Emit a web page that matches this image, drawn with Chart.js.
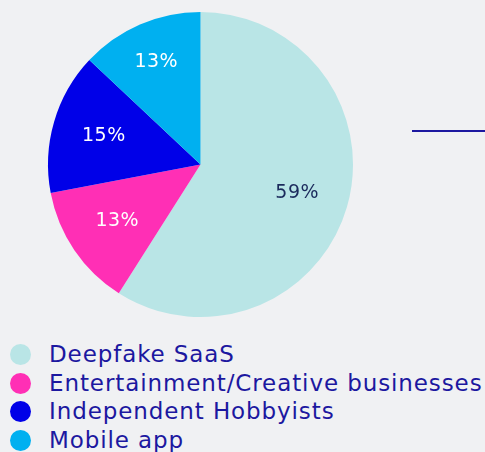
<!DOCTYPE html>
<html>
<head>
<meta charset="utf-8">
<script src="https://cdn.jsdelivr.net/npm/chart.js@4/dist/chart.umd.min.js"></script>
<style>
  html, body { margin: 0; padding: 0; background: #f0f1f3; }
  body { width: 485px; height: 452px; overflow: hidden; position: relative; font-family: 'DejaVu Sans', sans-serif; }
  #wrap { position: absolute; left: 0; top: 0; width: 485px; height: 330px; }
  #legend { position: absolute; left: 0; top: 340px; margin: 0; padding: 0; list-style: none; }
  #legend li { position: relative; height: 28.5px; line-height: 28.5px; padding-left: 49px; font-size: 23px; letter-spacing: 0.9px; color: #1c18a0; white-space: nowrap; }
  #legend li span { position: absolute; left: 10px; top: 4px; width: 21px; height: 21px; border-radius: 50%; }
</style>
</head>
<body>
<div id="wrap"><canvas id="pieChart"></canvas></div>
<ul id="legend"></ul>
<script>
const labels = ['Deepfake SaaS', 'Entertainment/Creative businesses', 'Independent Hobbyists', 'Mobile app'];
const shares = [59, 13, 15, 13];
const sliceColors = ['#b9e5e6', '#ff2fb5', '#0000e8', '#00b0f0'];
const labelColors = ['#1b2a5c', '#ffffff', '#ffffff', '#ffffff'];
const labelRadius = [0.66, 0.66, 0.66, 0.73];

// 扇区内百分比文字
const sliceLabels = {
    id: 'sliceLabels',
    afterDatasetsDraw(chart) {
        const { ctx } = chart;
        const meta = chart.getDatasetMeta(0);
        ctx.save();
        ctx.font = '19px "DejaVu Sans", sans-serif';
        ctx.letterSpacing = '0.5px';
        ctx.textAlign = 'center';
        ctx.textBaseline = 'middle';
        meta.data.forEach((arc, i) => {
            const mid = (arc.startAngle + arc.endAngle) / 2;
            const r = arc.outerRadius * labelRadius[i];
            ctx.fillStyle = labelColors[i];
            ctx.fillText(shares[i] + '%', arc.x + Math.cos(mid) * r, arc.y + Math.sin(mid) * r);
        });
        ctx.restore();
    }
};

// 右侧指引线
const sideLine = {
    id: 'sideLine',
    afterDraw(chart) {
        const { ctx } = chart;
        ctx.save();
        ctx.strokeStyle = '#1c18a0';
        ctx.lineWidth = 2;
        ctx.beginPath();
        ctx.moveTo(412, 131);
        ctx.lineTo(485, 131);
        ctx.stroke();
        ctx.restore();
    }
};

new Chart(document.getElementById('pieChart'), {
    type: 'pie',
    data: {
        labels: labels,
        datasets: [{
            data: shares,
            backgroundColor: sliceColors,
            borderWidth: 0
        }]
    },
    options: {
        responsive: true,
        maintainAspectRatio: false,
        animation: false,
        layout: { padding: { left: 48, right: 132, top: 12, bottom: 13 } },
        plugins: {
            legend: { display: false },
            tooltip: { enabled: false }
        }
    },
    plugins: [sliceLabels, sideLine]
});

// 图例
const legend = document.getElementById('legend');
labels.forEach((name, i) => {
    const li = document.createElement('li');
    li.innerHTML = `<span style="background:${sliceColors[i]}"></span>${name}`;
    legend.appendChild(li);
});
</script>
</body>
</html>
